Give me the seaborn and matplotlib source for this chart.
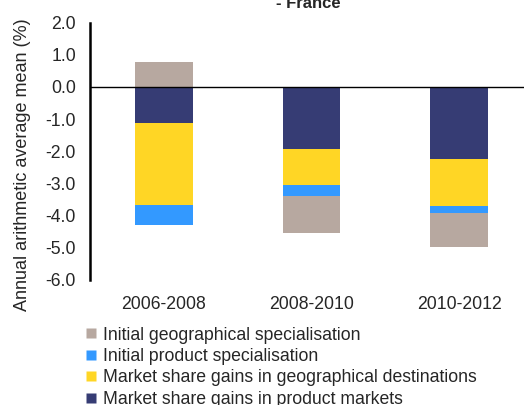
import numpy as np
import pandas as pd
import seaborn as sns
import matplotlib
import matplotlib.pyplot as plt
from matplotlib.lines import Line2D

# periods and the four contributions (annual mean, %)
periods = ['2006-2008', '2008-2010', '2010-2012']
product_markets = [-1.13, -1.93, -2.25]
geo_destinations = [-2.55, -1.13, -1.46]
product_spec = [-0.62, -0.35, -0.22]
geo_spec = [0.77, -1.14, -1.06]

# stacking order (first = closest to zero), legend shows it reversed
series_names = ['Market share gains in product markets',
                'Market share gains in geographical destinations',
                'Initial product specialisation',
                'Initial geographical specialisation']
series_values = [product_markets, geo_destinations, product_spec, geo_spec]
series_colors = ['#363C74', '#FFD625', '#3399FF', '#B7A8A0']

sns.set_style('white')
plt.rcParams['font.family'] = ['Liberation Sans', 'DejaVu Sans']
plt.rcParams['axes.unicode_minus'] = False

fs = 12.7

fig = plt.figure(figsize=(5.24, 4.05), dpi=100)
ax = fig.add_axes([90 / 524, 125.5 / 405, 443 / 524, 256.8 / 405])

pos_base = np.zeros(len(periods))
neg_base = np.zeros(len(periods))
for name, vals, col in zip(series_names, series_values, series_colors):
    vals = np.array(vals)
    bottom = np.where(vals >= 0, pos_base, neg_base)
    df = pd.DataFrame({'period': periods, 'value': vals})
    sns.barplot(data=df, x='period', y='value', color=col, saturation=1,
                width=0.39, bottom=bottom, ax=ax, errorbar=None,
                edgecolor='none', linewidth=0)
    pos_base += np.where(vals >= 0, vals, 0)
    neg_base += np.where(vals < 0, vals, 0)

ax.axhline(0, color='black', lw=1.0, zorder=5)
ax.set_xlim(-0.5, 2.5)
ax.set_ylim(-6, 2)
yticks = np.arange(-6, 2.1, 1.0)
ax.set_yticks(yticks)
ax.set_yticklabels([f'{v:.1f}' for v in yticks])
for s in ['top', 'right', 'bottom']:
    ax.spines[s].set_visible(False)
ax.spines['left'].set_color('black')
ax.spines['left'].set_linewidth(1.8)
ax.tick_params(axis='y', length=0, pad=10, labelsize=fs)
ax.tick_params(axis='x', length=0, pad=12, labelsize=fs)
ax.set_xlabel('')
ax.set_ylabel('')

fig.text(23 / 524, 1 - 165 / 405, 'Annual arithmetic average mean (%)',
         rotation=90, ha='center', va='center', fontsize=13)
fig.text(308 / 524, 1 - 8.5 / 405, '- France', ha='center', va='baseline',
         fontsize=12, fontweight='bold')

handles = [Line2D([], [], marker='s', ls='none', markersize=7.5,
                  markerfacecolor=c, markeredgecolor='none')
           for c in series_colors[::-1]]
fig.legend(handles, series_names[::-1], loc='upper left',
           bbox_to_anchor=(85 / 524, 1 - 326.5 / 405), frameon=False,
           fontsize=fs, handlelength=0.7, handletextpad=0.3,
           labelspacing=0.25, borderaxespad=0, borderpad=0)

fig.savefig('out.png', dpi=100, facecolor='white')
